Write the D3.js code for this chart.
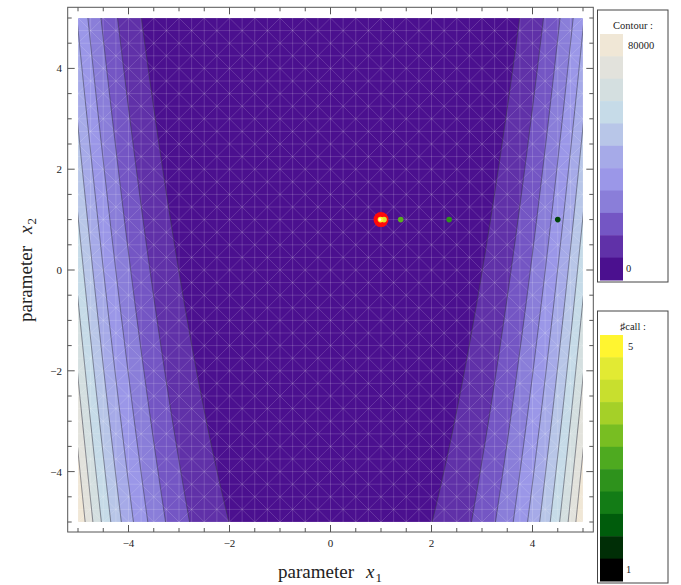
<!DOCTYPE html>
<html><head><meta charset="utf-8">
<script src="https://cdn.jsdelivr.net/npm/d3@7"></script>
<style>body{margin:0;background:#fff}svg{display:block}text{font-family:"Liberation Serif","DejaVu Serif",serif;fill:#222}</style>
</head><body><svg id="c" width="681" height="585"></svg>
<script>
// ---- data ----
const xDomain = [-5, 5];
const yDomain = [-5, 5];
const tickValues = [-4, -2, 0, 2, 4];
const contourLevels = [0, 8185, 16370, 24555, 32740, 40925, 49111, 57296, 65481, 73666, 81851];
const contourColors = ["#4b108f","#6031a8","#7456c4","#8a7ed9","#9b97e8","#a6aae8","#b8c6e8","#c6dbe8","#d4dfe0","#e2e2dc","#f0e7d6"];
const contourLegendLabels = ["80000", "0"];
const callColors = ["#000000","#002e06","#005c0c","#137c16","#2e921c","#4eaa20","#78be22","#a5d028","#c8df2e","#e2ea33","#fff530"];
const callLegendLabels = ["5", "1"];
const pointX1 = [4.5, 2.35, 1.39, 1.06, 0.99];
const pointX2 = [1.0, 1.0, 1.0, 1.0, 1.0];
const pointCall = [1.6, 2.6, 3.1, 4.5, 5];
const optimum = [1, 1];
// Rosenbrock objective being contoured
const objective = (x1, x2) => (1 - x1) ** 2 + 100 * (x2 - x1 * x1) ** 2;

const svg = d3.select("#c");
const x = d3.scaleLinear().domain(xDomain).range([78, 583]);
const y = d3.scaleLinear().domain(yDomain).range([522, 18]);

svg.append("clipPath").attr("id","clip").append("rect")
  .attr("x", x(-5)).attr("y", y(5)).attr("width", x(5)-x(-5)).attr("height", y(-5)-y(5));

// grid sampling slightly beyond domain
const n = 520, lo = -5.1, hi = 5.1, step = (hi - lo) / (n - 1);
const vals = new Float64Array(n * n);
for (let j = 0; j < n; j++) {
  const yv = hi - j * step;
  for (let i = 0; i < n; i++) vals[j * n + i] = objective(lo + i * step, yv);
}
const contours = d3.contours().size([n, n]).thresholds(contourLevels)(vals);
const proj = d3.geoTransform({ point: function(gx, gy) {
  this.stream.point(x(lo + (gx - 0.5) * step), y(hi - (gy - 0.5) * step));
}});
const path = d3.geoPath(proj);
const g = svg.append("g").attr("clip-path", "url(#clip)");
g.selectAll("path.band").data(contours).join("path").attr("class","band")
  .attr("d", path).attr("fill", (d, i) => contourColors[i]).attr("stroke", "none");

// mesh overlay
const mesh = g.append("g").attr("stroke", "#ffffff").attr("stroke-opacity", 0.2).attr("stroke-width", 0.8).attr("fill","none");
const fine = d3.range(-5, 5.001, 0.25);
mesh.selectAll("line.v").data(fine).join("line").attr("x1", d => x(d)).attr("x2", d => x(d)).attr("y1", y(5)).attr("y2", y(-5));
mesh.selectAll("line.h").data(fine).join("line").attr("y1", d => y(d)).attr("y2", d => y(d)).attr("x1", x(-5)).attr("x2", x(5));
const diag = d3.range(-10, 10.001, 0.5);
mesh.selectAll("line.d1").data(diag).join("line")
  .attr("x1", d => x(-5)).attr("y1", d => y(-5 + d)).attr("x2", d => x(5)).attr("y2", d => y(5 + d));
mesh.selectAll("line.d2").data(diag).join("line")
  .attr("x1", d => x(-5)).attr("y1", d => y(5 + d)).attr("x2", d => x(5)).attr("y2", d => y(-5 + d));

// contour lines
g.selectAll("path.line").data(contours.slice(1)).join("path").attr("class","line")
  .attr("d", path).attr("fill", "none").attr("stroke", "#3a3a4a").attr("stroke-opacity", 0.65).attr("stroke-width", 0.9);

// points
const callScale = d3.scaleLinear().domain(d3.range(11).map(i => 1 + i * 0.4)).range(callColors);
svg.append("circle").attr("cx", x(optimum[0])).attr("cy", y(optimum[1])).attr("r", 7.5).attr("fill", "#ff0a0a");
svg.selectAll("circle.pt").data(pointX1.map((v, i) => [v, pointX2[i], pointCall[i]])).join("circle").attr("class","pt")
  .attr("cx", d => x(d[0])).attr("cy", d => y(d[1])).attr("r", 2.8).attr("fill", d => callScale(d[2]));
svg.append("circle").attr("cx", x(pointX1[4]) - 0.5).attr("cy", y(pointX2[4])).attr("r", 1.3).attr("fill", "#fffce0");

// frame
const F = { l: 67.7, r: 593.3, t: 7.3, b: 532 };
svg.append("rect").attr("x", F.l).attr("y", F.t).attr("width", F.r - F.l).attr("height", F.b - F.t)
  .attr("fill", "none").attr("stroke", "#555").attr("stroke-width", 1);
const allTicks = d3.range(-5, 5.001, 0.5);
const tl = d => (Math.abs(d % 2) < 1e-9 ? 7 : 4);
const tk = svg.append("g").attr("stroke", "#555").attr("stroke-width", 1);
allTicks.forEach(d => {
  tk.append("line").attr("x1", x(d)).attr("x2", x(d)).attr("y1", F.b).attr("y2", F.b - tl(d));
  tk.append("line").attr("x1", x(d)).attr("x2", x(d)).attr("y1", F.t).attr("y2", F.t + tl(d));
  tk.append("line").attr("y1", y(d)).attr("y2", y(d)).attr("x1", F.l).attr("x2", F.l + tl(d));
  tk.append("line").attr("y1", y(d)).attr("y2", y(d)).attr("x1", F.r).attr("x2", F.r - tl(d));
});
const fmt = d => d < 0 ? "\u2212" + Math.abs(d) : String(d);
svg.selectAll("text.xt").data(tickValues).join("text").attr("class","xt")
  .attr("x", d => x(d)).attr("y", 547).attr("text-anchor","middle").attr("font-size", 11).text(fmt);
svg.selectAll("text.yt").data(tickValues).join("text").attr("class","yt")
  .attr("x", 62).attr("y", d => y(d) + 4).attr("text-anchor","end").attr("font-size", 11).text(fmt);

// axis titles
function axisTitle(sel, sub) {
  sel.append("tspan").text("parameter");
  sel.append("tspan").attr("dx", 12).attr("font-style","italic").text("x");
  sel.append("tspan").attr("dx", 1).attr("dy", 4).attr("font-size", 13).text(sub);
}
axisTitle(svg.append("text").attr("x", 330).attr("y", 578).attr("text-anchor","middle").attr("font-size", 19), "1");
axisTitle(svg.append("text").attr("transform","translate(32,270) rotate(-90)").attr("text-anchor","middle").attr("font-size", 19), "2");

// legends
function legend(top, bottom, title, colors, labels) {
  const lg = svg.append("g");
  lg.append("rect").attr("x", 597.5).attr("y", top).attr("width", 70.5).attr("height", bottom - top)
    .attr("fill", "#fff").attr("stroke", "#444").attr("stroke-width", 1);
  lg.append("text").attr("x", 633).attr("y", top + 19).attr("text-anchor","middle").attr("font-size", 10.5).text(title);
  const s0 = top + 24, s1 = bottom - 2, h = (s1 - s0) / colors.length;
  colors.slice().reverse().forEach((c, i) => {
    lg.append("rect").attr("x", 600).attr("y", s0 + i * h).attr("width", 23).attr("height", h + 0.5).attr("fill", c);
  });
  lg.append("text").attr("x", 628).attr("y", s0 + 15).attr("font-size", 10.5).text(labels[0]);
  lg.append("text").attr("x", 626).attr("y", s1 - 8).attr("font-size", 10.5).text(labels[1]);
}
legend(10, 282, "Contour :", contourColors, contourLegendLabels);
legend(311, 583, "\u266Fcall :", callColors, callLegendLabels);
</script></body></html>
